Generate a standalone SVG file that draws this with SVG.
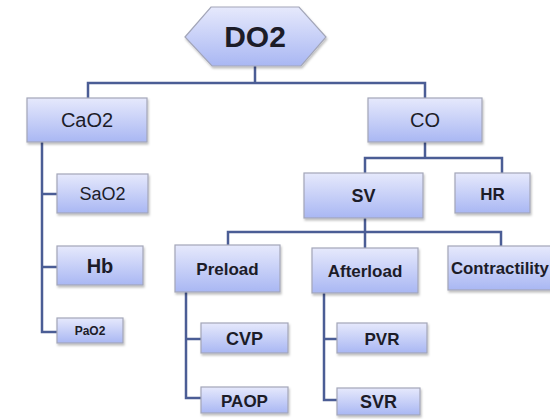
<svg xmlns="http://www.w3.org/2000/svg" width="550" height="419" viewBox="0 0 550 419">
<defs>
<linearGradient id="g" x1="0" y1="0" x2="0" y2="1">
<stop offset="0" stop-color="#e6e9fc"/>
<stop offset="1" stop-color="#a9b7f3"/>
</linearGradient>
<filter id="sh" x="-10%" y="-10%" width="130%" height="140%">
<feDropShadow dx="1" dy="2" stdDeviation="1.2" flood-color="#000" flood-opacity="0.25"/>
</filter>
</defs>
<style>
.b{fill:url(#g);stroke:#a3a6b8;stroke-width:1.2;filter:url(#sh)}
.t{font-family:"Liberation Sans",Arial,sans-serif;fill:#1c1c28;text-anchor:middle}
.c{fill:none;stroke:#4b5d95;stroke-width:2.5}
</style>
<rect width="550" height="419" fill="#fff"/>
<g id="connectors" class="c">
<path d="M255,66V83M88,98V83H425V98"/>
<path d="M42,142V332H57M42,194H57M42,267H57"/>
<path d="M425,142V158M365,173V158H502V173"/>
<path d="M365,218V248M228,245V232H501V247"/>
<path d="M186,292V398H201M186,339H201"/>
<path d="M324,293V400H337M324,339H337"/>
</g>
<g id="DO2"><polygon class="b" points="185,37 211,7 299,7 326,37 301,66 212,66"/><text class="t" x="255" y="47" font-size="30" font-weight="bold">DO2</text></g>
<g id="CaO2"><rect class="b" x="27" y="98" width="120" height="44"/><text class="t" x="87" y="127" font-size="20">CaO2</text></g>
<g id="CO"><rect class="b" x="368" y="98" width="114" height="44"/><text class="t" x="425" y="127" font-size="20">CO</text></g>
<g id="SaO2"><rect class="b" x="57" y="174" width="91" height="39"/><text class="t" x="102.5" y="200" font-size="18">SaO2</text></g>
<g id="Hb"><rect class="b" x="57" y="246" width="86" height="39"/><text class="t" x="100" y="272.5" font-size="20" font-weight="bold">Hb</text></g>
<g id="PaO2"><rect class="b" x="57" y="318" width="66" height="25"/><text class="t" x="90" y="335" font-size="12" font-weight="bold">PaO2</text></g>
<g id="SV"><rect class="b" x="304" y="173" width="119" height="45"/><text class="t" x="363.5" y="202" font-size="18" font-weight="bold">SV</text></g>
<g id="HR"><rect class="b" x="455" y="173" width="75" height="40"/><text class="t" x="492.5" y="199.5" font-size="17" font-weight="bold">HR</text></g>
<g id="Preload"><rect class="b" x="175" y="245" width="105" height="47"/><text class="t" x="227.5" y="274.5" font-size="17" font-weight="bold">Preload</text></g>
<g id="Afterload"><rect class="b" x="312" y="248" width="106" height="45"/><text class="t" x="365" y="276.5" font-size="17" font-weight="bold">Afterload</text></g>
<g id="Contractility"><rect class="b" x="448" y="246" width="112" height="44"/><text class="t" x="451" y="274" font-size="16.8" font-weight="bold" style="text-anchor:start">Contractility</text></g>
<g id="CVP"><rect class="b" x="201" y="323" width="87" height="30"/><text class="t" x="244.5" y="344.5" font-size="18" font-weight="bold">CVP</text></g>
<g id="PAOP"><rect class="b" x="201" y="387" width="87" height="26"/><text class="t" x="244.5" y="406.5" font-size="17" font-weight="bold">PAOP</text></g>
<g id="PVR"><rect class="b" x="337" y="323" width="90" height="30"/><text class="t" x="382" y="344.5" font-size="17" font-weight="bold">PVR</text></g>
<g id="SVR"><rect class="b" x="337" y="388" width="83" height="27"/><text class="t" x="378.5" y="408" font-size="18" font-weight="bold">SVR</text></g>
</svg>
